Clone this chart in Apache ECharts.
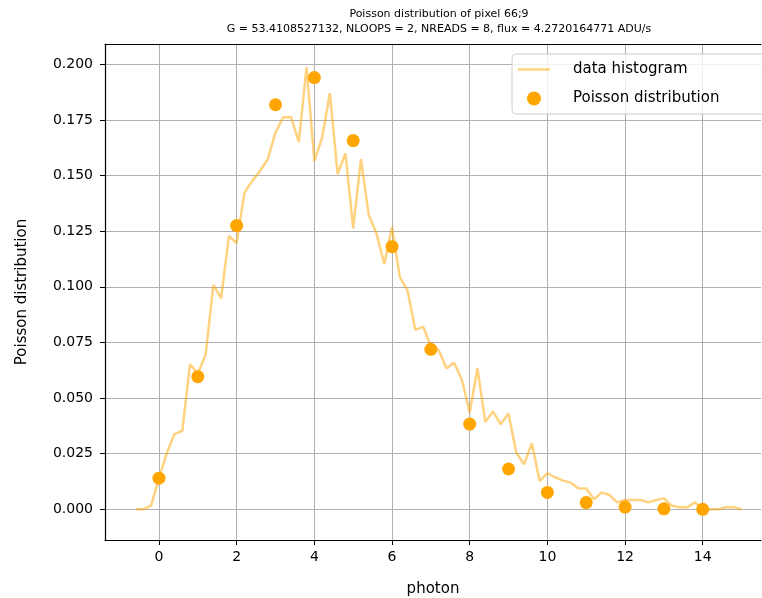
<!DOCTYPE html>
<html><head><meta charset="utf-8">
<script src="https://cdn.jsdelivr.net/npm/echarts@6/dist/echarts.min.js"></script>
<style>html,body{margin:0;padding:0;background:#fff}#c{width:762px;height:598px}</style>
</head><body><div id="c"></div>
<script>
const histogramPhotons = [-0.6,-0.4,-0.2,0.0,0.2,0.4,0.6,0.8,1.0,1.2,1.4,1.6,1.8,2.0,2.2,2.4,2.6,2.8,3.0,3.2,3.4,3.6,3.8,4.0,4.2,4.4,4.6,4.8,5.0,5.2,5.4,5.6,5.8,6.0,6.2,6.4,6.6,6.8,7.0,7.2,7.4,7.6,7.8,8.0,8.2,8.4,8.6,8.8,9.0,9.2,9.4,9.6,9.8,10.0,10.2,10.4,10.6,10.8,11.0,11.2,11.4,11.6,11.8,12.0,12.2,12.4,12.6,12.8,13.0,13.2,13.4,13.6,13.8,14.0,14.2,14.4,14.6,14.8,15.0];
const histogramValues = [0,0,0.0018,0.0139,0.0252,0.0338,0.0353,0.0652,0.061,0.0693,0.1008,0.0948,0.1228,0.1196,0.1423,0.1476,0.152,0.1573,0.1694,0.1762,0.1762,0.165,0.1987,0.1565,0.167,0.187,0.1506,0.16,0.1263,0.1574,0.1323,0.124,0.1101,0.1268,0.1044,0.0983,0.0806,0.0821,0.0733,0.0716,0.0634,0.0659,0.0581,0.0434,0.0634,0.0392,0.0439,0.0382,0.0431,0.0254,0.0202,0.0297,0.0127,0.0162,0.0144,0.0129,0.012,0.0094,0.0093,0.0045,0.0076,0.0064,0.0031,0.0042,0.0042,0.0042,0.0031,0.0042,0.0049,0.0016,0.0009,0.0009,0.0031,0,0,0,0.0009,0.0009,0];
const poissonPhotons = [0,1,2,3,4,5,6,7,8,9,10,11,12,13,14];
const poissonValues = [0.014,0.0596,0.1275,0.1818,0.194,0.1657,0.118,0.0719,0.0383,0.0181,0.0076,0.003,0.001,0.0002,0.0];
const xTicks = [0,2,4,6,8,10,12,14];
const yTicks = [0,0.025,0.05,0.075,0.1,0.125,0.15,0.175,0.2];
const titleLines = ['Poisson distribution of pixel 66;9','G = 53.4108527132, NLOOPS = 2, NREADS = 8, flux = 4.2720164771 ADU/s'];

const font = 'DejaVu Sans';
const xMin = -1.39, xMax = 15.5;
const chart = echarts.init(document.getElementById('c'), null, {renderer:'canvas'});
chart.setOption({
  animation:false,
  backgroundColor:'#fff',
  textStyle:{fontFamily:font},
  grid:{left:105, top:44, right:1, bottom:58, show:false, containLabel:false, outerBoundsMode:'none'},
  graphic:[
    {type:'text', x:439, y:9, style:{text:titleLines[0], font:'11px "DejaVu Sans"', fill:'#000', textAlign:'center'}},
    {type:'text', x:439, y:24, style:{text:titleLines[1], font:'11px "DejaVu Sans"', fill:'#000', textAlign:'center'}}
  ],
  legend:{
    orient:'vertical', left:512, top:54,
    padding:[8,60,8,6], itemGap:14, itemWidth:32, itemHeight:14,
    backgroundColor:'rgba(255,255,255,0.8)', borderColor:'#cccccc', borderWidth:1, borderRadius:4,
    textStyle:{fontFamily:font, fontSize:15, color:'#000', padding:[0,0,0,18]},
    data:[{name:'data histogram', icon:'path://M0,0 L32,0 L32,2.5 L0,2.5 Z', itemStyle:{color:'rgba(255,165,0,0.5)'}}, {name:'Poisson distribution', icon:'circle'}]
  },
  xAxis:[{
    type:'value', min:xMin, max:xMax, position:'bottom',
    name:'photon', nameLocation:'middle', nameGap:42,
    nameTextStyle:{fontFamily:font, fontSize:15, color:'#000'},
    axisLine:{show:true, onZero:false, lineStyle:{color:'#000', width:1.2}},
    axisTick:{show:true, inside:false, length:5, lineStyle:{color:'#000', width:1}, customValues:xTicks},
    axisLabel:{customValues:xTicks, fontFamily:font, fontSize:14, color:'#000', margin:10, formatter:v=>String(Math.round(v))},
    splitLine:{show:true, lineStyle:{color:'#b0b0b0', width:1}}
  },{
    type:'value', min:xMin, max:xMax, position:'top',
    axisLine:{show:true, onZero:false, lineStyle:{color:'#000', width:1.2}},
    axisTick:{show:false}, axisLabel:{show:false}, splitLine:{show:false}
  }],
  yAxis:{
    type:'value', min:-0.0138, max:0.2091,
    name:'Poisson distribution', nameLocation:'middle', nameGap:75, nameRotate:90,
    nameTextStyle:{fontFamily:font, fontSize:15, color:'#000'},
    axisLine:{show:true, onZero:false, lineStyle:{color:'#000', width:1.2}},
    axisTick:{show:true, inside:false, length:5, lineStyle:{color:'#000', width:1}, customValues:yTicks},
    axisLabel:{customValues:yTicks, fontFamily:font, fontSize:14, color:'#000', margin:12, formatter:v=>v.toFixed(3)},
    splitLine:{show:true, lineStyle:{color:'#b0b0b0', width:1}}
  },
  series:[
    {name:'data histogram', type:'line', xAxisIndex:0, data:histogramPhotons.map((x,i)=>[x,histogramValues[i]]),
     showSymbol:false, symbol:'none', lineStyle:{color:'rgba(255,165,0,0.5)', width:2.5}, itemStyle:{color:'rgba(255,165,0,0.5)'}, z:2},
    {name:'Poisson distribution', type:'scatter', xAxisIndex:0, data:poissonPhotons.map((x,i)=>[x,poissonValues[i]]),
     symbolSize:13, itemStyle:{color:'#ffa500', opacity:1}, z:3}
  ]
});
</script></body></html>
